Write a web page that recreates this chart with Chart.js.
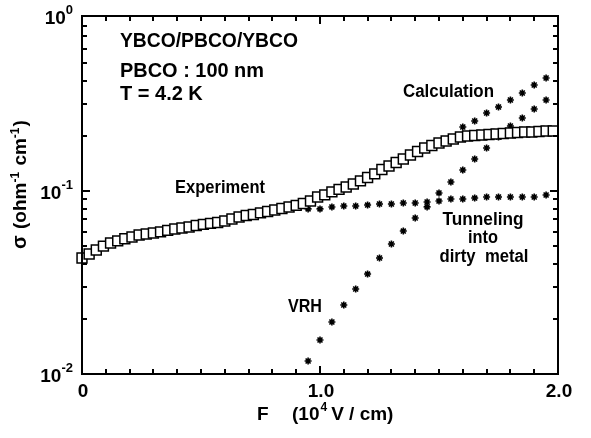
<!DOCTYPE html>
<html>
<head>
<meta charset="utf-8">
<script src="https://cdn.jsdelivr.net/npm/chart.js@4/dist/chart.umd.min.js"></script>
<style>
  html, body { margin: 0; padding: 0; background: #fff; }
  canvas { display: block; }
</style>
</head>
<body>
<canvas id="c" width="591" height="438"></canvas>
<script>
// Measured conductivity (open squares), F in 10^4 V/cm, sigma in ohm^-1 cm^-1
const fieldExp = [0.00,0.03,0.06,0.09,0.12,0.15,0.18,0.21,0.24,0.27,0.30,0.33,0.36,0.39,0.42,0.45,0.48,0.51,0.54,0.57,
  0.60,0.63,0.66,0.69,0.72,0.75,0.78,0.81,0.84,0.87,0.90,0.93,0.96,0.99,1.02,1.05,1.08,1.11,1.14,1.17,
  1.20,1.23,1.26,1.29,1.32,1.35,1.38,1.41,1.44,1.47,1.50,1.53,1.56,1.59,1.62,1.65,1.68,1.71,1.74,1.77,
  1.80,1.83,1.86,1.89,1.92,1.95,1.98];
const sigmaExp = [0.0430,0.0453,0.0476,0.0500,0.0520,0.0534,0.0548,0.0561,0.0575,0.0582,0.0590,0.0598,0.0609,0.0620,0.0628,0.0636,0.0648,0.0657,0.0665,0.0673,
  0.0686,0.0703,0.0721,0.0735,0.0744,0.0759,0.0773,0.0788,0.0802,0.0818,0.0834,0.0855,0.0882,0.0928,0.0952,0.0989,0.1020,0.1052,0.1091,0.1135,
  0.1185,0.1240,0.1310,0.1370,0.1431,0.1496,0.1573,0.1643,0.1717,0.1774,0.1829,0.1877,0.1925,0.1972,0.1997,0.2010,0.2023,0.2036,0.2049,0.2062,
  0.2075,0.2088,0.2101,0.2101,0.2114,0.2128,0.2128];

// Model components (asterisks)
const fieldModel = [0.95,1.00,1.05,1.10,1.15,1.20,1.25,1.30,1.35,1.40,1.45,1.50,1.55,1.60,1.65,1.70,1.75,1.80,1.85,1.90,1.95];
const sigmaVRH = [0.01178,0.01534,0.01923,0.02382,0.02913,0.03516,0.04305,0.05133,0.06040,0.07117,0.08184,0.09757,0.1120,0.1302,0.1496,0.1718,0.1972,0.2265,0.2505,0.2806,0.3143];
const sigmaTunnel = [0.0798,0.0798,0.0818,0.0828,0.0828,0.0838,0.0849,0.0849,0.0860,0.0860,0.0871,0.0881,0.0904,0.0904,0.0915,0.0927,0.0927,0.0927,0.0927,0.0927,0.0951];
const fieldCalc = [1.60,1.65,1.70,1.75,1.80,1.85,1.90,1.95];
const sigmaCalc = [0.2237,0.2413,0.2668,0.2877,0.3143,0.3430,0.3795,0.4145];

// Axis ticks and labels
const xTickValues = [0,0.1,0.2,0.3,0.4,0.5,0.6,0.7,0.8,0.9,1.0,1.1,1.2,1.3,1.4,1.5,1.6,1.7,1.8,1.9,2.0];
const xMajorTicks = [0, 1, 2];
const xTickLabels = ['0', '1.0', '2.0'];
const yDecades = [-2, -1, 0];

const pts = (xs, ys) => xs.map((x, i) => ({ x, y: ys[i] }));

const FONT = '"Liberation Sans", Arial, Helvetica, sans-serif';

const framePlugin = {
  id: 'frame',
  afterDraw(chart) {
    const { ctx, chartArea: a, scales } = chart;
    const xs = scales.x, ys = scales.y;
    const top = Math.round(a.top), bottom = Math.round(a.bottom);
    const left = Math.round(a.left), right = Math.round(a.right);
    ctx.save();
    ctx.globalAlpha = 1;
    ctx.fillStyle = '#000';

    // frame
    ctx.fillRect(left - 1, top - 1, right - left + 2, 2);
    ctx.fillRect(left - 1, bottom - 1, right - left + 2, 2);
    ctx.fillRect(left - 1, top - 1, 2, bottom - top + 2);
    ctx.fillRect(right - 1, top - 1, 2, bottom - top + 2);

    // x ticks (inward, bottom and top)
    xTickValues.forEach((v, k) => {
      const px = Math.round(xs.getPixelForValue(v));
      const len = (k % 10 === 0) ? 8 : 5;
      ctx.fillRect(px - 1, bottom - len, 2, len);
      ctx.fillRect(px - 1, top, 2, len);
    });
    // y ticks (log, inward, left and right)
    for (const d of [-2, -1]) {
      for (let m = 1; m <= 9; m++) {
        const v = m * Math.pow(10, d);
        if (v > ys.max * 1.0001) continue;
        const py = Math.round(ys.getPixelForValue(v));
        const len = (m === 1) ? 8 : 5;
        ctx.fillRect(left, py - 1, len, 2);
        ctx.fillRect(right - len, py - 1, len, 2);
      }
    }

    // x tick labels
    ctx.font = 'bold 19px ' + FONT;
    ctx.textAlign = 'center';
    ctx.textBaseline = 'alphabetic';
    xMajorTicks.forEach((v, i) => {
      ctx.fillText(xTickLabels[i], xs.getPixelForValue(v) + 1, bottom + 23);
    });

    // y tick labels: 10 with superscript exponent
    yDecades.forEach(d => {
      let py = ys.getPixelForValue(Math.pow(10, d));
      if (py < top) py = top;
      const sup = String(d);
      ctx.font = 'bold 13px ' + FONT;
      const sw = ctx.measureText(sup).width;
      ctx.textAlign = 'right';
      ctx.fillText(sup, 73, py - 2);
      ctx.font = 'bold 19px ' + FONT;
      ctx.fillText('10', 73 - sw, py + 8);
    });

    // x axis title
    ctx.textAlign = 'left';
    ctx.font = 'bold 19px ' + FONT;
    ctx.fillText('F', 257, 420);
    ctx.fillText('(10', 292, 420);
    let xx = 292 + ctx.measureText('(10').width;
    ctx.font = 'bold 12px ' + FONT;
    ctx.fillText('4', xx + 1, 411);
    xx += ctx.measureText('4').width + 5;
    ctx.font = 'bold 19px ' + FONT;
    ctx.fillText('V / cm)', xx, 420);

    // y axis title (rotated)
    ctx.save();
    ctx.translate(26, 0);
    ctx.rotate(-Math.PI / 2);
    ctx.font = 'bold 20px ' + FONT;
    ctx.textAlign = 'left';
    ctx.fillText('\u03c3', -249, 0);
    let yy = -229;
    const parts = [['(ohm', 19, 0], ['-1', 12, -7], [' cm', 19, 0], ['-1', 12, -7], [')', 19, 0]];
    for (const [t, s, dy] of parts) {
      ctx.font = 'bold ' + s + 'px ' + FONT;
      ctx.fillText(t, yy, dy);
      yy += ctx.measureText(t).width + (s < 15 ? 1 : 0);
    }
    ctx.restore();

    // annotations
    const label = (t, x, y, size, w, align) => {
      ctx.font = 'bold ' + size + 'px ' + FONT;
      ctx.textAlign = align || 'left';
      ctx.fillText(t, x, y, w);
    };
    label('YBCO/PBCO/YBCO', 120, 47, 20, 178);
    label('PBCO : 100 nm', 120, 77, 20, 144);
    label('T = 4.2 K', 120, 100, 20, 83);
    label('Calculation', 403, 97, 18, 91);
    label('Experiment', 175, 193, 18, 90);
    label('Tunneling', 483, 225, 18, 81, 'center');
    label('into', 483, 243, 18, 30, 'center');
    label('dirty  metal', 484, 262, 18, 89, 'center');
    label('VRH', 288, 312, 18, 34);

    ctx.restore();
  }
};

new Chart(document.getElementById('c'), {
  type: 'scatter',
  data: {
    datasets: [
      {
        label: 'Experiment',
        data: pts(fieldExp, sigmaExp),
        pointStyle: 'rect',
        pointRadius: 7,
        pointBackgroundColor: '#fff',
        pointBorderColor: '#000',
        pointBorderWidth: 1.5,
        clip: false
      },
      {
        label: 'Calculation',
        data: pts(fieldCalc, sigmaCalc),
        pointStyle: 'star',
        pointRadius: 3.5,
        pointBorderColor: '#000',
        pointBorderWidth: 1.6
      },
      {
        label: 'Tunneling into dirty metal',
        data: pts(fieldModel, sigmaTunnel),
        pointStyle: 'star',
        pointRadius: 3.5,
        pointBorderColor: '#000',
        pointBorderWidth: 1.6
      },
      {
        label: 'VRH',
        data: pts(fieldModel, sigmaVRH),
        pointStyle: 'star',
        pointRadius: 3.5,
        pointBorderColor: '#000',
        pointBorderWidth: 1.6
      }
    ]
  },
  options: {
    responsive: false,
    animation: false,
    events: [],
    layout: { padding: { left: 82, right: 33, top: 16, bottom: 64 } },
    plugins: { legend: { display: false }, tooltip: { enabled: false } },
    scales: {
      x: { type: 'linear', min: 0, max: 2, display: false },
      y: { type: 'logarithmic', min: 0.01, max: 0.904, bounds: 'data', display: false }
    }
  },
  plugins: [framePlugin]
});
</script>
</body>
</html>
